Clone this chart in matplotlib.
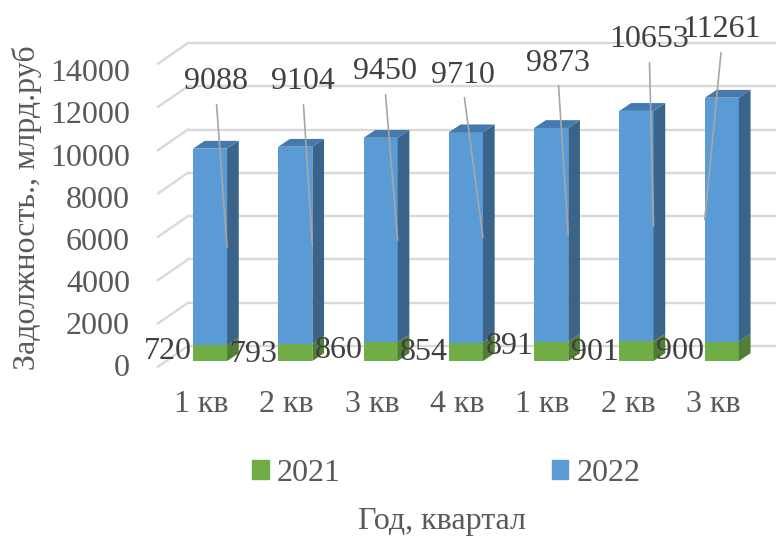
import numpy as np
import matplotlib.pyplot as plt
from matplotlib.patches import Polygon, Patch

# data
quarters = ['1 кв', '2 кв', '3 кв', '4 кв', '1 кв', '2 кв', '3 кв']
debt_2021 = [720, 793, 860, 854, 891, 901, 900]
debt_2022 = [9088, 9104, 9450, 9710, 9873, 10653, 11261]
y_ticks = [0, 2000, 4000, 6000, 8000, 10000, 12000, 14000]

# where the user dragged the labels (x shift in categories, y in value units)
lbl_dx = [0.07, 0.09, 0.05, -0.03, 0.08, 0.15, 0.0]
lbl_y = [12900, 12890, 13350, 13210, 13760, 14830, 15290]
green_lbl_y = [420, 300, 480, 390, 660, 400, 420]

GREEN, GREEN_SIDE = '#70AD47', '#507E32'
BLUE, BLUE_SIDE, BLUE_TOP = '#5B9BD5', '#3A6489', '#4679AD'
GRID = '#D9D9D9'
TXT = '#595959'
LBL = '#404040'
FS = 23

plt.rcParams['font.family'] = ['Liberation Serif', 'DejaVu Serif']

# pixel scale of the drawing: 85.3 px per category, 0.02165 px per unit
PX_X = 85.3
PX_Y = 0.02165

fig = plt.figure(figsize=(7.76, 5.36), dpi=100)
ax = fig.add_axes([0, 0, 1, 1])
ax.set_xlim(-210 / PX_X, (776 - 210) / PX_X)
ax.set_ylim((361 - 536) / PX_Y, 361 / PX_Y)
ax.axis('off')

x = np.arange(len(quarters))
g = np.array(debt_2021)
b = np.array(debt_2022)

# oblique depth of the box (walls) and the bars
wall_dx, wall_dy = 30 / PX_X, 20.7 / PX_Y
front_dy = -5.7 / PX_Y           # floor front edge is below the bar front
back_x = -0.258
front_x = back_x - wall_dx
bar_w = 0.40
dx, dy = 11.7 / PX_X, 7.8 / PX_Y

# back wall and side wall gridlines
for v in y_ticks:
    yb = v + front_dy + wall_dy
    ax.plot([back_x, ax.get_xlim()[1]], [yb, yb], color=GRID, lw=1.7, zorder=1)
    ax.plot([front_x, back_x], [v + front_dy, yb], color=GRID, lw=1.7, zorder=1)

# bars: front faces via bar(), side/top faces as polygons
ax.bar(x, g, width=bar_w, color=GREEN, zorder=3)
ax.bar(x, b, width=bar_w, bottom=g, color=BLUE, zorder=3)
for i in range(len(x)):
    r = x[i] + bar_w / 2
    l = x[i] - bar_w / 2
    top = g[i] + b[i]
    ax.add_patch(Polygon([[r, 0], [r + dx, dy], [r + dx, g[i] + dy], [r, g[i]]],
                         closed=True, color=GREEN_SIDE, lw=0, zorder=3))
    ax.add_patch(Polygon([[r, g[i]], [r + dx, g[i] + dy], [r + dx, top + dy], [r, top]],
                         closed=True, color=BLUE_SIDE, lw=0, zorder=3))
    ax.add_patch(Polygon([[l, top], [r, top], [r + dx, top + dy], [l + dx, top + dy]],
                         closed=True, color=BLUE_TOP, lw=0, zorder=3))

# data labels 2021
for i in range(len(x)):
    ax.text(x[i] - 0.49, green_lbl_y[i], str(g[i]), ha='center', va='center',
            fontsize=FS, color=LBL, zorder=5)

# data labels 2022 with leader lines
for i in range(len(x)):
    anchor_x = x[i] + bar_w / 2 if i < len(x) - 1 else x[i] - bar_w / 2
    anchor = (anchor_x, g[i] + b[i] / 2)
    ax.annotate(str(b[i]), xy=anchor, xytext=(x[i] + lbl_dx[i], lbl_y[i]),
                ha='center', va='center', fontsize=FS, color=LBL, zorder=5,
                arrowprops=dict(arrowstyle='-', color='#A6A6A6', lw=1.2,
                                relpos=(0.5, 0), shrinkA=4, shrinkB=0))

# y tick labels on the front edge
for v in y_ticks:
    ax.text(-80 / PX_X, v * 0.9732 - 360, str(v), ha='right', va='center',
            fontsize=FS, color=TXT)

# category labels
for i in range(len(x)):
    ax.text(x[i] - 0.1, -1990, quarters[i], ha='center', va='center',
            fontsize=FS, color=TXT)

ax.text(-183 / PX_X, 7070, 'Задолжность., млрд.руб', rotation=90,
        ha='center', va='center', fontsize=FS, color=TXT)

handles = [Patch(color=GREEN, label='2021'), Patch(color=BLUE, label='2022')]
fig.legend(handles=handles, loc='center', bbox_to_anchor=(0.575, 0.1175), ncol=2,
           frameon=False, fontsize=FS, labelcolor=TXT, handlelength=0.52,
           handleheight=0.52, handletextpad=0.25, columnspacing=6.6)

fig.text(0.569, 0.027, 'Год, квартал', ha='center', va='center',
         fontsize=FS, color=TXT)

plt.savefig('out.png', dpi=100)
